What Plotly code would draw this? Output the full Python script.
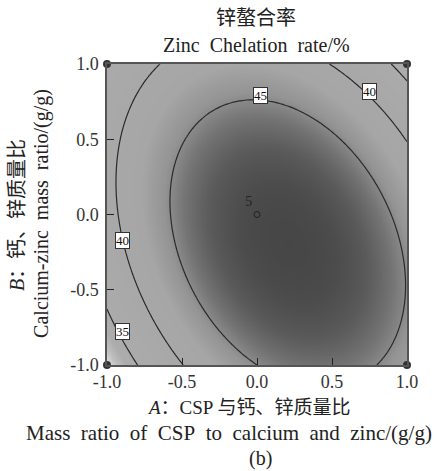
import numpy as np
import plotly.graph_objects as go

# Quadratic response-surface model
# Y = b0 + bA*A + bB*B + bAB*A*B + bAA*A^2 + bBB*B^2
model_terms = ["b0", "A", "B", "AB", "A2", "B2"]
model_coefs = [49.06, 2.50, -1.27, -3.79, -7.87, -5.33]

contour_levels = [35, 40, 45]
tick_vals = [-1.0, -0.5, 0.0, 0.5, 1.0]
tick_text = ["-1.0", "-0.5", "0.0", "0.5", "1.0"]

design_A = [-1, 1, -1, 1]
design_B = [-1, -1, 1, 1]
center_A = [0]
center_B = [0]
center_reps = ["5"]

c = dict(zip(model_terms, model_coefs))
grid = np.linspace(-1, 1, 121)
AA, BB = np.meshgrid(grid, grid)
Z = (c["b0"] + c["A"] * AA + c["B"] * BB + c["AB"] * AA * BB
     + c["A2"] * AA ** 2 + c["B2"] * BB ** 2)

zmin, zmax = 30.8, 49.5
def t(v):
    return (v - zmin) / (zmax - zmin)
colorscale = [
    [0.0, "#e6e6e6"],
    [t(32.0), "#c2c2c2"],
    [t(33.5), "#acacac"],
    [t(42.5), "#a6a6a6"],
    [t(44.5), "#949494"],
    [t(46.0), "#747474"],
    [t(47.5), "#5a5a5a"],
    [t(48.7), "#4c4c4c"],
    [1.0, "#464646"],
]

fig = go.Figure()
fig.add_trace(go.Contour(
    x=grid, y=grid, z=Z,
    zmin=zmin, zmax=zmax, zauto=False,
    colorscale=colorscale, showscale=False,
    contours=dict(coloring="heatmap", start=contour_levels[0],
                  end=contour_levels[-1], size=5, showlabels=False),
    line=dict(color="#2a2a2a", width=1.2),
    hoverinfo="skip",
))

fig.add_trace(go.Scatter(
    x=design_A, y=design_B, mode="markers",
    marker=dict(color="#333333", size=8),
    cliponaxis=False, showlegend=False,
))
fig.add_trace(go.Scatter(
    x=center_A, y=center_B, mode="markers+text",
    marker=dict(color="rgba(0,0,0,0)", size=6,
                line=dict(color="#222222", width=1)),
    text=center_reps, textposition="top left",
    textfont=dict(family="Liberation Serif", size=14, color="#222222"),
    showlegend=False,
))

# boxed contour labels
label_pos = [(0.023, 0.79, "45"), (0.753, 0.817, "40"),
             (-0.9, -0.173, "40"), (-0.9, -0.78, "35")]
annotations = []
for lx, ly, lt in label_pos:
    annotations.append(dict(
        x=lx, y=ly, xref="x", yref="y", text=lt, showarrow=False,
        font=dict(family="Liberation Serif", size=13, color="#111111"),
        bgcolor="white", bordercolor="#333333", borderwidth=1, borderpad=0,
    ))

serif = "Liberation Serif, Noto Sans CJK SC"
def txt(x, y, s, size, angle=0):
    return dict(x=x, y=y, xref="paper", yref="paper", text=s,
                showarrow=False, xanchor="center", yanchor="middle",
                textangle=angle,
                font=dict(family=serif, size=size, color="#222222"))

annotations += [
    txt(0.497, 1.153, "锌螯合率", 20),
    txt(0.497, 1.063, "Zinc\u00a0 Chelation\u00a0 rate/%", 20),
    txt(-0.30, 0.498, "<i>B</i>：钙、锌质量比", 20, -90),
    txt(-0.217, 0.505, "Calcium-zinc\u00a0 mass\u00a0 ratio/(g/g)", 20, -90),
    txt(0.473, -0.14, "<i>A</i>：CSP 与钙、锌质量比", 19),
    txt(0.405, -0.226, "Mass\u00a0 ratio\u00a0 of\u00a0 CSP\u00a0 to\u00a0 calcium\u00a0 and\u00a0 zinc/(g/g)", 21),
    txt(0.51, -0.309, "(b)", 20),
]

axis_common = dict(
    range=[-1, 1], tickvals=tick_vals, ticktext=tick_text,
    ticks="inside", ticklen=7, tickcolor="#222222", tickwidth=1.2,
    showline=True, linecolor="#555555", linewidth=1.5, mirror=True,
    showgrid=False, zeroline=False,
    tickfont=dict(family="Liberation Serif", size=18, color="#333333"),
)
fig.update_layout(
    width=448, height=471,
    margin=dict(l=107, r=41, t=64, b=106),
    paper_bgcolor="white", plot_bgcolor="white",
    xaxis=dict(**axis_common),
    yaxis=dict(**axis_common, ticklabelstandoff=3),
    annotations=annotations,
    showlegend=False,
)
fig.write_html("out.html")
